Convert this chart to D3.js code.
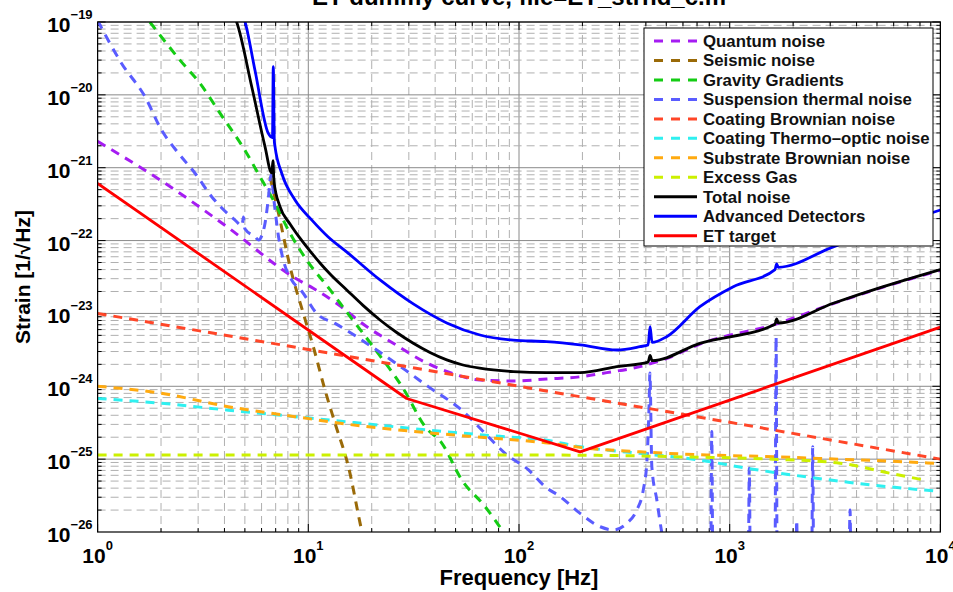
<!DOCTYPE html>
<html>
<head>
<meta charset="utf-8">
<script src="https://cdn.jsdelivr.net/npm/d3@7"></script>
<style>
  body { margin: 0; background: #fff; }
  svg { display: block; font-family: "Liberation Sans", Arial, Helvetica, sans-serif; font-weight: bold; }
</style>
</head>
<body>
<svg id="chart"></svg>
<script>
// values: [frequency Hz, strain 1/sqrt(Hz)]
const quantumNoise = [
  [1, 2.3e-21], [2.01, 6.6e-22], [4.17, 1.5e-22], [8.65, 3.06e-23], [10.6, 2.2e-23],
  [13.6, 1.38e-23], [18.9, 6.6e-24], [25.3, 3.9e-24], [35.2, 2.2e-24], [45.4, 1.6e-24],
  [65.3, 1.22e-24], [93.7, 1.18e-24], [135, 1.26e-24], [195, 1.35e-24], [261, 1.54e-24],
  [375, 1.86e-24], [500, 2.4e-24], [722, 3.8e-24], [1671, 7.2e-24], [3100, 1.36e-23],
  [5360, 2.3e-23], [10000, 3.9e-23]
];
const seismicNoise = [
  [6.58, 7.5e-22], [7.34, 1.91e-22], [8.19, 4.4e-23], [9.47, 1.0e-23], [10.56, 3.5e-24],
  [12.0, 8.9e-25], [13.4, 3.1e-25], [15.5, 7.9e-26], [17.9, 1.06e-26], [18.3, 8e-27]
];
const gravityGradients = [
  [1.77, 1e-19], [2.46, 3.0e-20], [3.06, 1.44e-20], [3.81, 5.6e-21], [5.1, 1.58e-21],
  [5.9, 7.5e-22], [6.82, 3.6e-22], [8.19, 1.26e-22], [9.83, 5.4e-23], [12.7, 2.1e-23],
  [15.2, 1.05e-23], [20.3, 3.5e-24], [28.5, 8.9e-25], [35.8, 2.8e-25], [43, 1.66e-25],
  [53.5, 5.2e-26], [69, 2.23e-26], [82.8, 1.07e-26], [86, 9e-27]
];
const suspensionThermal = [
  [1, 1.05e-19], [1.3, 2.7e-20], [1.68, 9.4e-21], [2.01, 3.3e-21], [2.42, 1.58e-21],
  [2.9, 8.4e-22], [3.48, 4.0e-22], [4.49, 1.91e-22], [4.85, 1.6e-22], [4.92, 2.1e-22],
  [5.0, 1.45e-22], [5.58, 1.13e-22], [5.8, 1.02e-22], [6.2, 1.6e-22], [6.45, 3.6e-22],
  [6.65, 7.9e-22], [6.9, 3.2e-22], [7.2, 1.2e-22], [7.61, 5.4e-23], [8.34, 2.88e-23],
  [9.33, 2.0e-23], [10.96, 1.0e-23], [13.4, 7.3e-24], [20, 3.5e-24], [28.8, 1.68e-24],
  [37.1, 9.9e-25], [53.5, 4.7e-25], [69, 2.26e-25], [85.9, 1.2e-25], [111, 7.1e-26],
  [133, 4.2e-26], [157, 3.05e-26], [195, 1.8e-26], [243, 1.18e-26], [280, 1.07e-26],
  [325, 1.32e-26], [362, 2.0e-26], [389, 3.8e-26], [404, 8.8e-26], [415, 6.5e-25],
  [418, 1.52e-24], [427, 7.9e-26], [451, 2.75e-26], [476, 9.8e-27], [520, 3e-27],
  [812, 3e-27], [822, 2.4e-25], [832, 3e-27],
  [1225, 3e-27], [1239, 7.5e-26], [1253, 3e-27],
  [1640, 3e-27], [1660, 4.8e-24], [1680, 3e-27],
  [2060, 3e-27], [2080, 1.46e-26], [2100, 3e-27],
  [2450, 3e-27], [2477, 1.48e-25], [2505, 3e-27],
  [3680, 3e-27], [3724, 2.0e-26], [3770, 3e-27], [10000, 3e-27]
];
const coatingBrownian = [
  [1, 1.0e-23], [10, 3.2e-24], [100, 1.0e-24], [1000, 3.2e-25], [10000, 1.0e-25]
];
const coatingThermoOptic = [
  [1, 6.8e-25], [2.01, 5.85e-25], [4.17, 4.7e-25], [8.65, 3.83e-25], [17.9, 3.1e-25],
  [37.1, 2.5e-25], [76.9, 2.08e-25], [133, 1.83e-25], [195, 1.48e-25], [375, 1.2e-25],
  [723, 9.7e-26], [1205, 7.5e-26], [2320, 5.7e-26], [4790, 4.4e-26], [10000, 3.6e-26]
];
const substrateBrownian = [
  [1, 1.0e-24], [2.01, 8.0e-25], [4.17, 5.25e-25], [8.65, 3.83e-25], [17.9, 2.85e-25],
  [37.1, 2.3e-25], [76.9, 1.93e-25], [133, 1.68e-25], [213, 1.41e-25], [375, 1.26e-25],
  [778, 1.14e-25], [1610, 1.08e-25], [3337, 9.96e-26], [5770, 9.4e-26], [10000, 8.7e-26]
];
const excessGas = [
  [1, 1.14e-25], [100, 1.14e-25], [300, 1.12e-25], [538, 1.08e-25], [1607, 1.0e-25],
  [3337, 8.8e-26], [5770, 6.4e-26], [8280, 5.2e-26]
];
const totalNoise = [
  [4.4, 1.3e-19], [4.57, 1e-19], [5.39, 1.29e-20], [6.23, 1.95e-21], [6.7, 8.5e-22],
  [6.8, 1.25e-21], [6.87, 6.5e-22], [7.34, 2.92e-22], [8.19, 1.69e-22], [9.13, 1.08e-22],
  [10.38, 6.75e-23], [11.36, 4.92e-23], [12.68, 3.48e-23], [15.22, 2.1e-23], [18.18, 1.29e-23],
  [21.89, 8.13e-24], [26.28, 5.47e-24], [31.5, 3.89e-24], [37.8, 2.91e-24], [45.4, 2.3e-24],
  [54.2, 1.96e-24], [65.1, 1.77e-24], [94, 1.59e-24], [135, 1.54e-24], [195, 1.54e-24],
  [291, 1.86e-24], [410, 2.15e-24], [419, 2.65e-24], [428, 2.25e-24], [722, 3.89e-24],
  [1640, 7.1e-24], [1671, 8.4e-24], [1700, 7.4e-24], [3100, 1.38e-23], [5360, 2.33e-23],
  [10000, 4.0e-23]
];
const advancedDetectors = [
  [4.8, 1.4e-19], [5.01, 1e-19], [5.58, 2.19e-20], [6.46, 2.96e-21], [6.76, 2.6e-21],
  [6.82, 2.44e-20], [6.9, 2.3e-21], [6.95, 1.95e-21], [7.48, 8.4e-22], [8.65, 3.6e-22],
  [10.4, 1.91e-22], [12.4, 1.13e-22], [15.2, 7.0e-23], [21.9, 2.88e-23], [31.5, 1.35e-23],
  [45.4, 7.4e-24], [65.3, 5.06e-24], [94, 4.3e-24], [135, 4.1e-24], [195, 3.7e-24],
  [291, 3.15e-24], [375, 3.5e-24], [410, 3.7e-24], [419, 6.6e-24], [428, 4.0e-24],
  [502, 4.8e-24], [722, 1.24e-23], [1040, 2.33e-23], [1640, 4.0e-23], [1671, 4.8e-23],
  [1700, 4.3e-23], [3100, 8.2e-23], [6430, 1.73e-22], [10000, 2.63e-22]
];
const etTarget = [
  [1, 6.1e-22], [29.3, 6.8e-25], [195, 1.26e-25], [10000, 6.5e-24]
];

const seriesNames = [
  "Quantum noise", "Seismic noise", "Gravity Gradients", "Suspension thermal noise",
  "Coating Brownian noise", "Coating Thermo\u2013optic noise", "Substrate Brownian noise",
  "Excess Gas", "Total noise", "Advanced Detectors", "ET target"
];
const seriesData = [
  quantumNoise, seismicNoise, gravityGradients, suspensionThermal, coatingBrownian,
  coatingThermoOptic, substrateBrownian, excessGas, totalNoise, advancedDetectors, etTarget
];
const seriesColors = [
  "#a51cf2", "#9a6a08", "#14cc14", "#5a5cff", "#ff4628", "#2ff0f0", "#ffaa10",
  "#ccf000", "#000000", "#0000ff", "#ff0000"
];
const seriesDashed = [true, true, true, true, true, true, true, true, false, false, false];

const xExponents = [0, 1, 2, 3, 4];
const yExponents = [-26, -25, -24, -23, -22, -21, -20, -19];

const titleText = "ET dummy curve, file=ET_strnd_c.m";
const xLabel = "Frequency [Hz]";
const yLabel = "Strain [1/\u221AHz]";

const width = 953;
const height = 592;
const margin = { top: 22, right: 12.6, bottom: 60, left: 97.6 };
const innerWidth = width - margin.left - margin.right;
const innerHeight = height - margin.top - margin.bottom;

const svg = d3.select("#chart")
  .attr("width", width)
  .attr("height", height)
  .style("background-color", "#fff");

const x = d3.scaleLog().domain([1, 1e4]).range([0, innerWidth]);
const y = d3.scaleLog().domain([1e-26, 1e-19]).range([innerHeight, 0]);

const g = svg.append("g").attr("transform", `translate(${margin.left},${margin.top})`);

const isDecade = (v) => Math.abs(Math.log10(v) - Math.round(Math.log10(v))) < 1e-9;

// grid
const xTicks = x.ticks();
const yTicks = y.ticks();

g.append("g")
  .selectAll("line")
  .data(xTicks)
  .enter()
  .append("line")
  .attr("x1", (d) => x(d))
  .attr("x2", (d) => x(d))
  .attr("y1", 0)
  .attr("y2", innerHeight)
  .attr("stroke", (d) => (isDecade(d) ? "#8a8a8a" : "#b0b0b0"))
  .attr("stroke-width", 1)
  .attr("stroke-dasharray", (d) => (isDecade(d) ? null : "8,5"));

g.append("g")
  .selectAll("line")
  .data(yTicks)
  .enter()
  .append("line")
  .attr("x1", 0)
  .attr("x2", innerWidth)
  .attr("y1", (d) => y(d))
  .attr("y2", (d) => y(d))
  .attr("stroke", (d) => (isDecade(d) ? "#8a8a8a" : "#b0b0b0"))
  .attr("stroke-width", 1)
  .attr("stroke-dasharray", (d) => (isDecade(d) ? null : "8,5"));

// inner ticks on all four sides
const ticks = g.append("g").attr("stroke", "#000").attr("stroke-width", 1);
xTicks.forEach((d) => {
  const len = isDecade(d) ? 8 : 4;
  ticks.append("line").attr("x1", x(d)).attr("x2", x(d)).attr("y1", innerHeight).attr("y2", innerHeight - len);
  ticks.append("line").attr("x1", x(d)).attr("x2", x(d)).attr("y1", 0).attr("y2", len);
});
yTicks.forEach((d) => {
  const len = isDecade(d) ? 8 : 4;
  ticks.append("line").attr("x1", 0).attr("x2", len).attr("y1", y(d)).attr("y2", y(d));
  ticks.append("line").attr("x1", innerWidth).attr("x2", innerWidth - len).attr("y1", y(d)).attr("y2", y(d));
});

// curves
svg.append("defs")
  .append("clipPath")
  .attr("id", "plot-clip")
  .append("rect")
  .attr("width", innerWidth)
  .attr("height", innerHeight);

const smoothLine = d3.line()
  .x((d) => x(d[0]))
  .y((d) => y(d[1]))
  .curve(d3.curveMonotoneX);

const straightLine = d3.line()
  .x((d) => x(d[0]))
  .y((d) => y(d[1]));

const curves = g.append("g").attr("clip-path", "url(#plot-clip)");
seriesData.forEach((data, i) => {
  curves.append("path")
    .datum(data)
    .attr("fill", "none")
    .attr("stroke", seriesColors[i])
    .attr("stroke-width", seriesDashed[i] ? 3 : 2.8)
    .attr("stroke-dasharray", seriesDashed[i] ? "9,7" : null)
    .attr("stroke-linejoin", "round")
    .attr("d", i === seriesData.length - 1 || i === 4 ? straightLine : smoothLine);
});

// axes box
g.append("rect")
  .attr("width", innerWidth)
  .attr("height", innerHeight)
  .attr("fill", "none")
  .attr("stroke", "#000")
  .attr("stroke-width", 1.2);

// tick labels (10 with superscript exponent)
xExponents.forEach((e) => {
  const t = g.append("text")
    .attr("x", x(10 ** e))
    .attr("y", innerHeight + 31)
    .attr("text-anchor", "middle")
    .attr("font-size", 21);
  t.append("tspan").text("10");
  t.append("tspan").attr("font-size", 13).attr("dy", -13).text(String(e));
});

yExponents.forEach((e) => {
  const t = g.append("text")
    .attr("x", -5)
    .attr("y", y(10 ** e) + 10)
    .attr("text-anchor", "end")
    .attr("font-size", 21);
  t.append("tspan").text("10");
  t.append("tspan").attr("font-size", 13).attr("dy", -13).text("\u2212" + String(-e));
});

// axis titles
svg.append("text")
  .attr("x", margin.left + innerWidth / 2)
  .attr("y", 585)
  .attr("text-anchor", "middle")
  .attr("font-size", 22)
  .text(xLabel);

svg.append("text")
  .attr("transform", `translate(30,${margin.top + innerHeight / 2}) rotate(-90)`)
  .attr("text-anchor", "middle")
  .attr("font-size", 21)
  .text(yLabel);

svg.append("text")
  .attr("x", margin.left + innerWidth / 2)
  .attr("y", 5)
  .attr("text-anchor", "middle")
  .attr("font-size", 24)
  .text(titleText);

// legend
const legend = svg.append("g").attr("transform", "translate(644,28)");
legend.append("rect")
  .attr("width", 289)
  .attr("height", 218)
  .attr("fill", "#fff")
  .attr("stroke", "#000")
  .attr("stroke-width", 1);

const items = legend.selectAll("g.item")
  .data(seriesNames)
  .enter()
  .append("g")
  .attr("class", "item")
  .attr("transform", (d, i) => `translate(0,${13 + i * 19.47})`);

items.append("line")
  .attr("x1", 10)
  .attr("x2", 53)
  .attr("stroke", (d, i) => seriesColors[i])
  .attr("stroke-width", 3)
  .attr("stroke-dasharray", (d, i) => (seriesDashed[i] ? "9,8" : null));

items.append("text")
  .attr("x", 59)
  .attr("y", 6)
  .attr("font-size", 16.8)
  .attr("fill", "#111")
  .text((d) => d);
</script>
</body>
</html>
